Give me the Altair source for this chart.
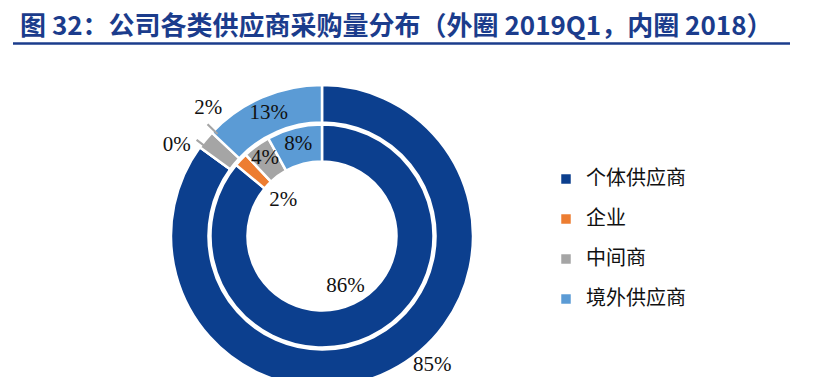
import altair as alt
import pandas as pd

categories = ["个体供应商", "企业", "中间商", "境外供应商"]
outer_2019q1 = [85, 0, 2, 13]
inner_2018 = [86, 2, 4, 8]
colors = ["#0C3F8E", "#ED7D31", "#A5A5A5", "#5B9BD5"]
title_text = "图 32：公司各类供应商采购量分布（外圈 2019Q1，内圈 2018）"

rows = []
for i, c in enumerate(categories):
    rows.append({"ring": "outer", "cat": c, "idx": i, "v": outer_2019q1[i]})
    rows.append({"ring": "inner", "cat": c, "idx": i, "v": inner_2018[i]})
df = pd.DataFrame(rows)

CX, CY = 314, 228
color = alt.Color(
    "cat:N",
    scale=alt.Scale(domain=categories, range=colors),
    legend=alt.Legend(
        title=None, orient="none", legendX=548, legendY=161,
        symbolType="square", symbolSize=90, symbolStrokeWidth=0,
        labelFont="Noto Sans CJK SC", labelFontSize=20, labelColor="#111111",
        rowPadding=20, labelOffset=10,
    ),
)
tscale = alt.Scale(domain=[0, 100])

base = alt.Chart(df)


def ring(name, r1, r2):
    return base.transform_filter(alt.datum.ring == name).mark_arc(
        radius=r1, radius2=r2, stroke="white", strokeWidth=2.5
    ).encode(
        theta=alt.Theta("v:Q", stack=True, scale=tscale),
        order=alt.Order("idx:Q"),
        color=color,
        x=alt.value(CX), y=alt.value(CY),
    )


def mids(name):
    return base.transform_filter(alt.datum.ring == name).transform_window(
        cum="sum(v)", sort=[alt.SortField("idx")], frame=[None, 0]
    ).transform_calculate(
        mid="datum.cum - datum.v / 2", lab="datum.v + '%'"
    )


def label(name, cat, r, dx=0, dy=0):
    return mids(name).transform_filter(alt.datum.cat == cat).mark_text(
        radius=r, dx=dx, dy=dy, font="Liberation Serif", fontSize=21, color="#111111"
    ).encode(
        theta=alt.Theta("mid:Q", stack=False, scale=tscale),
        text="lab:N",
        x=alt.value(CX), y=alt.value(CY),
    )


def leader(name, cat, shift, r1, r2):
    return mids(name).transform_filter(alt.datum.cat == cat).transform_calculate(
        a1="datum.mid + %f" % shift, a2="datum.mid + %f" % (shift + 0.22)
    ).mark_arc(radius=r1, radius2=r2, color="#A5A5A5").encode(
        theta=alt.Theta("a1:Q", stack=False, scale=tscale),
        theta2="a2:Q",
        x=alt.value(CX), y=alt.value(CY),
    )


labels = [
    label("outer", categories[0], 170, 33, -22),
    label("outer", categories[1], 171, -7, 10),
    label("outer", categories[2], 171, 18, -19),
    label("outer", categories[3], 134),
    label("inner", categories[0], 55),
    label("inner", categories[1], 53),
    label("inner", categories[2], 97),
    label("inner", categories[3], 95),
]
leaders = [
    leader("outer", categories[1], 0.3, 146, 158),
    leader("outer", categories[2], 1.2, 146, 160),
]

title = alt.Chart(pd.DataFrame({"t": [title_text]})).mark_text(
    align="left", baseline="middle", font="Noto Sans CJK SC", fontWeight="bold",
    fontSize=26, color="#1B3C8C"
).encode(text="t:N", x=alt.value(12), y=alt.value(19))

rule = alt.Chart(pd.DataFrame({"a": [0]})).mark_rule(color="#1B3C8C", strokeWidth=2.5).encode(
    x=alt.value(5), x2=alt.value(782), y=alt.value(35.5)
)

chart = alt.layer(
    ring("outer", 151, 113.5), ring("inner", 111.5, 74.5), *leaders, *labels, title, rule
).properties(
    width=810, height=369, autosize="none", padding=0
).configure_view(stroke=None)

chart.save("out.html", embed_options={"renderer": "svg", "actions": False})
